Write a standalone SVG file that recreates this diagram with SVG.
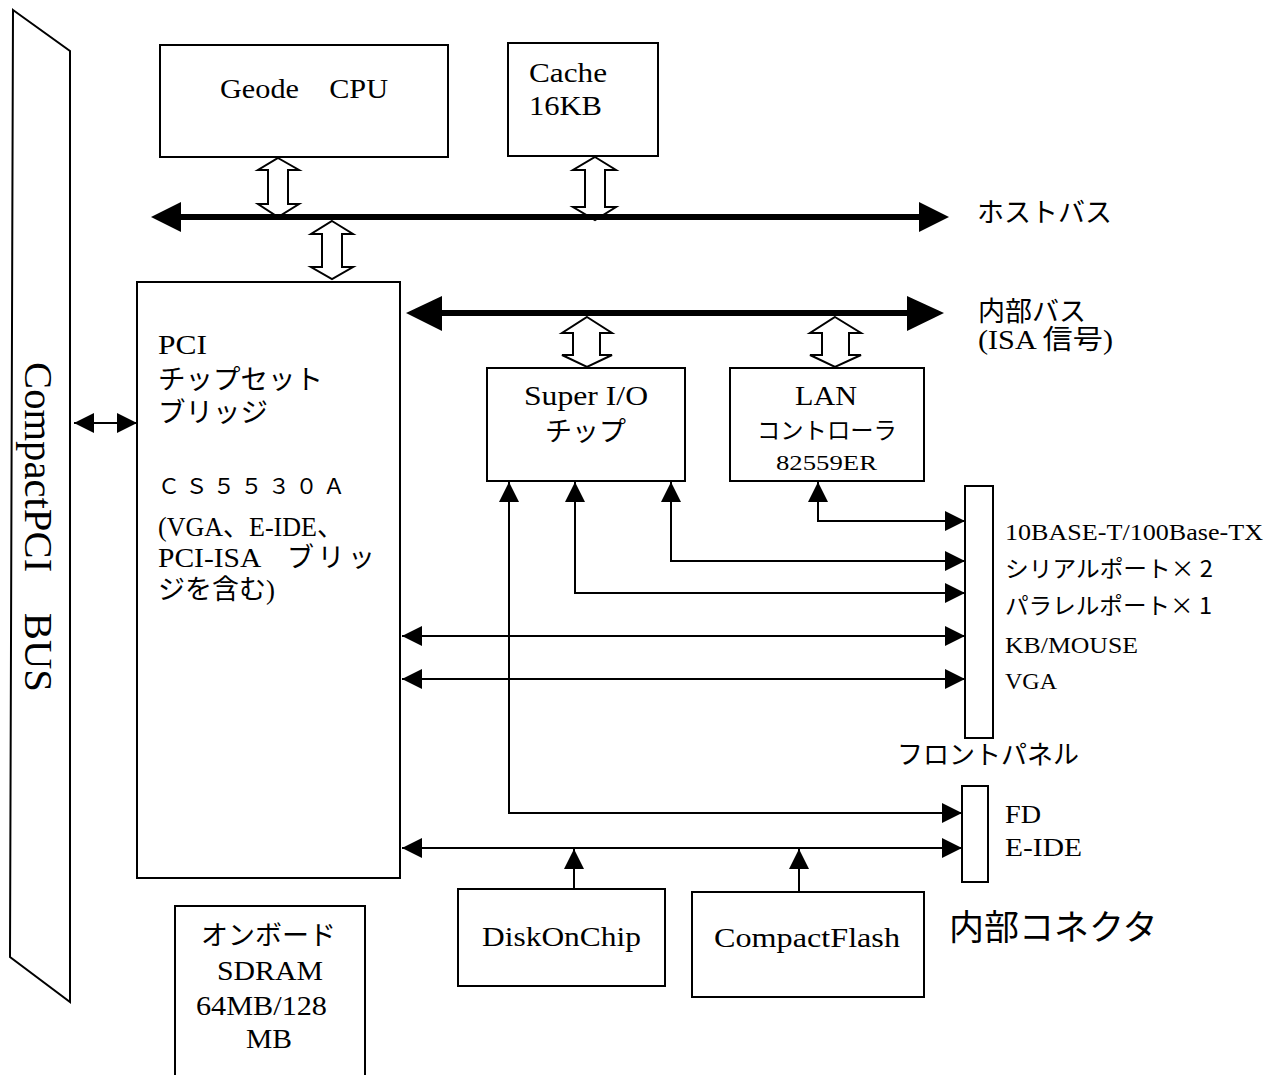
<svg xmlns="http://www.w3.org/2000/svg" width="1267" height="1075" viewBox="0 0 1267 1075">
<style>
.box{fill:#fff;stroke:#000;stroke-width:2}
.hol{fill:#fff;stroke:#000;stroke-width:2;stroke-linejoin:miter}
.ln{fill:none;stroke:#000;stroke-width:2}
.bus{fill:none;stroke:#000;stroke-width:6}
.s{font-family:"Liberation Serif","Noto Sans CJK JP",serif;fill:#000}
.j{font-family:"Noto Sans CJK JP","Noto Sans CJK SC",sans-serif;fill:#000}
</style>
<defs>
<marker id="ah" viewBox="0 0 20 20" refX="20" refY="10" markerWidth="20" markerHeight="20" markerUnits="userSpaceOnUse" orient="auto-start-reverse">
<path d="M0,0 L20,10 L0,20 Z" fill="#000"/>
</marker>
</defs>
<rect width="1267" height="1075" fill="#fff"/>

<g id="compactpci-bus">
<polygon class="box" points="13,10 70,51 70,1002 10,957"/>
<text class="s" font-size="40" text-anchor="middle" textLength="330" lengthAdjust="spacingAndGlyphs" transform="translate(25,527) rotate(90)">CompactPCI　BUS</text>
</g>

<g id="geode-cpu">
<rect class="box" x="160" y="45" width="288" height="112"/>
<text class="s" x="220" y="98" font-size="28" textLength="168" lengthAdjust="spacingAndGlyphs">Geode　CPU</text>
</g>

<g id="cache">
<rect class="box" x="508" y="43" width="150" height="113"/>
<text class="s" x="529" y="82" font-size="28" textLength="78" lengthAdjust="spacingAndGlyphs">Cache</text>
<text class="s" x="529" y="115" font-size="28" textLength="73" lengthAdjust="spacingAndGlyphs">16KB</text>
</g>

<g id="pci-chipset">
<rect class="box" x="137" y="282" width="263" height="596"/>
<text class="s" x="158" y="354" font-size="28" textLength="49" lengthAdjust="spacingAndGlyphs">PCI</text>
<text class="j" x="158" y="389" font-size="27.5">チップセット</text>
<text class="j" x="158" y="422" font-size="27.5">ブリッジ</text>
<text class="j" x="158" y="494" font-size="22" letter-spacing="5.5">ＣＳ５５３０Ａ</text>
<text class="s" x="158" y="536" font-size="28" textLength="185" lengthAdjust="spacingAndGlyphs">(VGA、E-IDE、</text>
<text class="s" y="567" font-size="28"><tspan x="158" textLength="109" lengthAdjust="spacingAndGlyphs">PCI-ISA </tspan><tspan class="j" x="287" font-size="27" letter-spacing="3.5">ブリッ</tspan></text>
<text class="j" x="158" y="599" font-size="27">ジを含む<tspan class="s">)</tspan></text>
</g>

<g id="super-io">
<rect class="box" x="487" y="368" width="198" height="113"/>
<text class="s" x="524" y="405" font-size="28" textLength="124" lengthAdjust="spacingAndGlyphs">Super I/O</text>
<text class="j" x="545" y="441" font-size="27">チップ</text>
</g>

<g id="lan-controller">
<rect class="box" x="730" y="368" width="194" height="113"/>
<text class="s" x="795" y="405" font-size="28" textLength="62" lengthAdjust="spacingAndGlyphs">LAN</text>
<text class="j" x="757" y="439" font-size="23.3">コントローラ</text>
<text class="s" x="776" y="470" font-size="22" textLength="101" lengthAdjust="spacingAndGlyphs">82559ER</text>
</g>

<g id="front-panel">
<rect class="box" x="965" y="486" width="28" height="252"/>
<text class="s" x="1005" y="540" font-size="24" textLength="258" lengthAdjust="spacingAndGlyphs">10BASE-T/100Base-TX</text>
<text class="j" x="1005" y="577" font-size="23" textLength="208" lengthAdjust="spacingAndGlyphs">シリアルポート× 2</text>
<text class="j" x="1005" y="614" font-size="23" textLength="207" lengthAdjust="spacingAndGlyphs">パラレルポート× 1</text>
<text class="s" x="1005" y="653" font-size="24" textLength="133" lengthAdjust="spacingAndGlyphs">KB/MOUSE</text>
<text class="s" x="1005" y="689" font-size="24" textLength="52" lengthAdjust="spacingAndGlyphs">VGA</text>
<text class="j" x="897" y="764" font-size="26">フロントパネル</text>
</g>

<g id="internal-connector">
<rect class="box" x="962" y="786" width="26" height="96"/>
<text class="s" x="1005" y="823" font-size="26" textLength="36" lengthAdjust="spacingAndGlyphs">FD</text>
<text class="s" x="1005" y="856" font-size="26" textLength="77" lengthAdjust="spacingAndGlyphs">E-IDE</text>
<text class="j" x="949" y="940" font-size="35">内部コネクタ</text>
</g>

<g id="diskonchip">
<rect class="box" x="458" y="889" width="207" height="97"/>
<text class="s" x="482" y="946" font-size="28" textLength="159" lengthAdjust="spacingAndGlyphs">DiskOnChip</text>
</g>

<g id="compactflash">
<rect class="box" x="692" y="892" width="232" height="105"/>
<text class="s" x="714" y="947" font-size="28" textLength="186" lengthAdjust="spacingAndGlyphs">CompactFlash</text>
</g>

<g id="sdram">
<rect class="box" x="175" y="906" width="190" height="180"/>
<text class="j" x="201" y="945" font-size="27">オンボード</text>
<text class="s" x="217" y="980" font-size="27" textLength="106" lengthAdjust="spacingAndGlyphs">SDRAM</text>
<text class="s" x="196" y="1015" font-size="27" textLength="131" lengthAdjust="spacingAndGlyphs">64MB/128</text>
<text class="s" x="246" y="1048" font-size="27" textLength="46" lengthAdjust="spacingAndGlyphs">MB</text>
</g>

<g id="bus-labels">
<text class="j" x="977" y="222" font-size="27">ホストバス</text>
<text class="j" x="978" y="321" font-size="27">内部バス</text>
<text class="s" x="978" y="349" font-size="27" textLength="135" lengthAdjust="spacingAndGlyphs">(ISA 信号)</text>
</g>

<g id="connectors">
<path class="hol" d="M278,158 L299,170 L288,170 L288,204 L299,204 L278,217 L258,204 L268,204 L268,170 L258,170 Z"/>
<path class="hol" d="M595,157 L616,170 L605,170 L605,207 L616,207 L595,220 L573,207 L585,207 L585,170 L573,170 Z"/>
<path class="hol" d="M332,221 L353,234 L342,234 L342,267 L353,267 L332,279 L311,267 L322,267 L322,234 L311,234 Z"/>
<path class="hol" d="M587,317 L612,333 L600,333 L600,355 L612,355 L587,367 L562,355 L573,355 L573,333 L562,333 Z"/>
<path class="hol" d="M835,317 L861,333 L849,333 L849,355 L861,355 L835,367 L810,355 L822,355 L822,333 L810,333 Z"/>

<line class="bus" x1="178" y1="217" x2="922" y2="217"/>
<polygon points="181,202 151,217 181,232" fill="#000"/>
<polygon points="919,202 949,217 919,232" fill="#000"/>

<line class="bus" x1="438" y1="313" x2="910" y2="313" stroke-width="7"/>
<polygon points="442,296 406,313 442,331" fill="#000"/>
<polygon points="907,296 944,313 907,331" fill="#000"/>

<line class="ln" x1="74" y1="423" x2="137" y2="423" marker-start="url(#ah)" marker-end="url(#ah)"/>
<line class="ln" x1="402" y1="636" x2="965" y2="636" marker-start="url(#ah)" marker-end="url(#ah)"/>
<line class="ln" x1="402" y1="679" x2="965" y2="679" marker-start="url(#ah)" marker-end="url(#ah)"/>
<line class="ln" x1="402" y1="848" x2="962" y2="848" marker-start="url(#ah)" marker-end="url(#ah)"/>
<polyline class="ln" points="509,482 509,813 962,813" marker-start="url(#ah)" marker-end="url(#ah)"/>
<polyline class="ln" points="575,482 575,593 965,593" marker-start="url(#ah)" marker-end="url(#ah)"/>
<polyline class="ln" points="671,482 671,561 965,561" marker-start="url(#ah)" marker-end="url(#ah)"/>
<polyline class="ln" points="818,482 818,521 965,521" marker-start="url(#ah)" marker-end="url(#ah)"/>
<line class="ln" x1="574" y1="889" x2="574" y2="849" marker-end="url(#ah)"/>
<line class="ln" x1="799" y1="891" x2="799" y2="849" marker-end="url(#ah)"/>
</g>
</svg>
